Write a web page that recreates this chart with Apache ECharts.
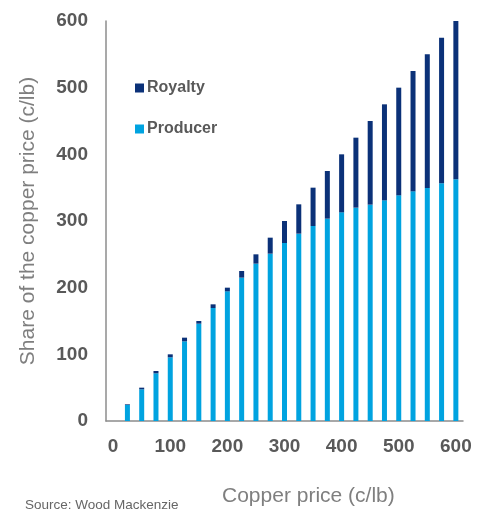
<!DOCTYPE html>
<html>
<head>
<meta charset="utf-8">
<script src="https://cdn.jsdelivr.net/npm/echarts@6/dist/echarts.min.js"></script>
<style>
  html, body { margin: 0; padding: 0; background: #fff; }
  #chart { width: 477px; height: 512px; }
</style>
</head>
<body>
<div id="chart"></div>
<script>
// Copper price steps (c/lb); the 0 step carries no bar
const copperPrice = ['0', '25', '50', '75', '100', '125', '150', '175', '200', '225', '250', '275', '300',
                     '325', '350', '375', '400', '425', '450', '475', '500', '525', '550', '575', '600'];
// Producer share of the price (c/lb)
const producer = [null, 24, 47.5, 71.5, 95.5, 119.5, 146, 169.5, 194.5, 215, 236, 251, 267,
                  281, 292.5, 303.5, 313, 320, 324.5, 331, 338.5, 344.5, 349.5, 356.5, 362.5];
// Royalty share of the price (c/lb)
const royalty = [null, 1, 2.5, 3.5, 4.5, 5.5, 4, 5.5, 5.5, 10, 14, 24, 33,
                 44, 57.5, 71.5, 87, 105, 125.5, 144, 161.5, 180.5, 200.5, 218.5, 237.5];

const FONT = '"Liberation Sans", Arial, sans-serif';
const chart = echarts.init(document.getElementById('chart'));

chart.setOption({
  backgroundColor: '#ffffff',
  animation: false,
  grid: { left: 106, right: 14, top: 21, bottom: 91, containLabel: false },
  legend: {
    orient: 'vertical',
    left: 130,
    top: 75,
    itemWidth: 9,
    itemHeight: 9,
    itemGap: 25,
    icon: 'rect',
    textStyle: { fontFamily: FONT, fontSize: 16, fontWeight: 'bold', color: '#595959', padding: [0, 0, 0, -2] },
    data: ['Royalty', 'Producer']
  },
  xAxis: {
    type: 'category',
    data: copperPrice,
    boundaryGap: true,
    axisLine: { show: true, lineStyle: { color: '#8c8c8c', width: 1.5 } },
    axisTick: { show: false },
    axisLabel: {
      interval: 3,
      margin: 16,
      fontFamily: FONT,
      fontSize: 19,
      fontWeight: 'bold',
      color: '#595959'
    }
  },
  yAxis: {
    type: 'value',
    min: 0,
    max: 600,
    interval: 100,
    splitLine: { show: false },
    axisLine: { show: true, lineStyle: { color: '#8c8c8c', width: 1.5 } },
    axisTick: { show: false },
    axisLabel: {
      margin: 18,
      fontFamily: FONT,
      fontSize: 19,
      fontWeight: 'bold',
      color: '#595959'
    },
    name: 'Share of the copper price (c/lb)',
    nameLocation: 'middle',
    nameGap: 67,
    nameTextStyle: { fontFamily: FONT, fontSize: 21, color: '#7f7f7f' }
  },
  graphic: [
    {
      type: 'text',
      left: 222,
      top: 486,
      style: { text: 'Copper price (c/lb)', font: '21px ' + FONT, fill: '#7f7f7f' }
    },
    {
      type: 'text',
      left: 25,
      top: 498,
      style: { text: 'Source: Wood Mackenzie', font: '13.5px ' + FONT, fill: '#666666' }
    }
  ],
  series: [
    {
      name: 'Producer',
      type: 'bar',
      stack: 'price',
      barWidth: 5,
      itemStyle: { color: '#00a3e0' },
      data: producer
    },
    {
      name: 'Royalty',
      type: 'bar',
      stack: 'price',
      barWidth: 5,
      itemStyle: { color: '#0b3178' },
      data: royalty
    }
  ]
});
</script>
</body>
</html>
